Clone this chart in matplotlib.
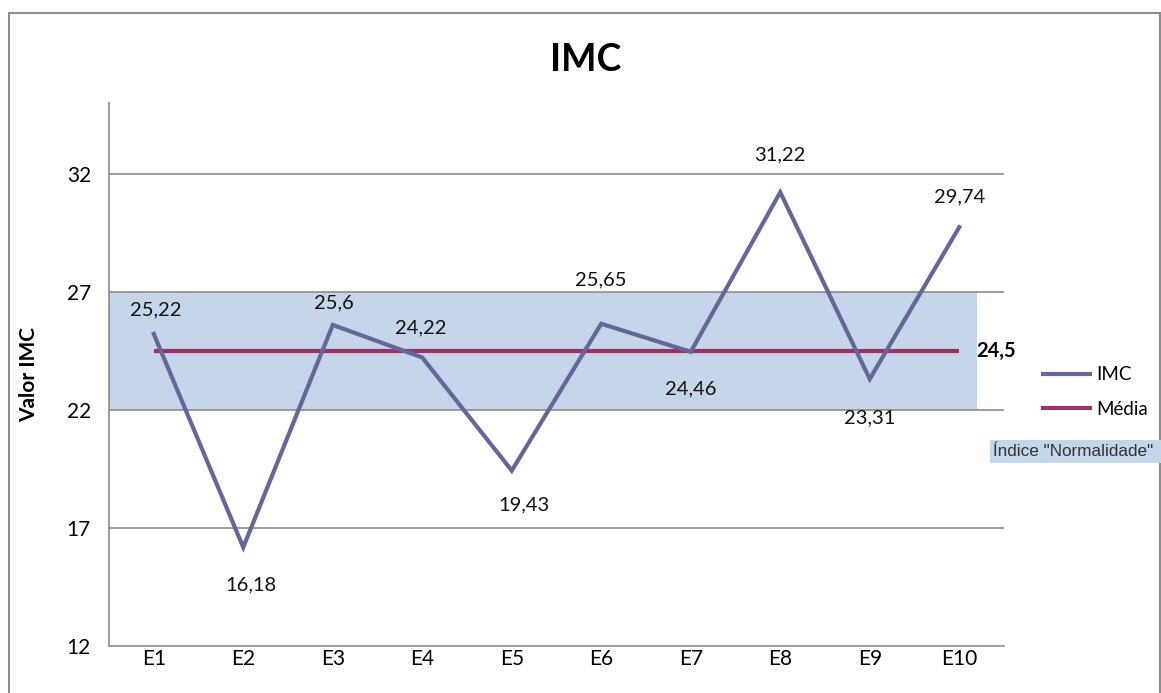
import matplotlib
matplotlib.use("Agg")
import matplotlib.pyplot as plt
from matplotlib.patches import Rectangle
from matplotlib.lines import Line2D

# Data
categories = ["E1", "E2", "E3", "E4", "E5", "E6", "E7", "E8", "E9", "E10"]
imc_values = [25.22, 16.18, 25.6, 24.22, 19.43, 25.65, 24.46, 31.22, 23.31, 29.74]
media_value = 24.5
normal_low, normal_high = 22, 27
y_ticks = [12, 17, 22, 27, 32]

# Label placement (pixel offsets from each point)
label_offsets = [(2, 24), (8, -38), (1, 22), (-1, 30), (12, -34),
                 (0, 44), (0, -37), (0, 37), (0, -39), (0, 30)]

IMC_COLOR = "#666699"
MEDIA_COLOR = "#993366"
BAND_COLOR = "#c5d5ea"
GRID_COLOR = "#8c8c8c"

plt.rcParams["font.family"] = ["Lato", "DejaVu Sans"]

W, H = 1161, 693
fig = plt.figure(figsize=(W / 100, H / 100), dpi=100)

# Outer chart frame
fig.patches.append(Rectangle((9 / W, -0.05), (1160 - 9) / W, 1.05 - 13 / H,
                             transform=fig.transFigure, fill=False,
                             edgecolor=GRID_COLOR, linewidth=1.5))

ax = fig.add_axes([109 / W, 1 - 646 / H, (1004 - 109) / W, (646 - 103) / H])
x = list(range(len(categories)))
ax.set_xlim(-0.5, len(categories) - 0.5)
ax.set_ylim(12, 35)

# Normal range band
ax.fill_between([-0.5, 9.2], normal_low, normal_high, color=BAND_COLOR,
                linewidth=0, zorder=1)

for t in y_ticks[1:]:
    ax.axhline(t, color=GRID_COLOR, linewidth=1.2, zorder=2)

ax.plot(x, [media_value] * len(x), color=MEDIA_COLOR, linewidth=3, zorder=3,
        solid_capstyle="butt")
ax.plot(x, imc_values, color=IMC_COLOR, linewidth=3, zorder=4,
        solid_joinstyle="miter")

for xi, v, (dx, dy) in zip(x, imc_values, label_offsets):
    ax.annotate(f"{v:g}".replace(".", ","), (xi, v), xytext=(dx, dy),
                textcoords="offset pixels", ha="center", va="center",
                fontsize=14.5, color="#111111", zorder=5)

ax.annotate(f"{media_value:g}".replace(".", ","), (x[-1], media_value),
            xytext=(37, 0), textcoords="offset pixels", ha="center",
            va="center", fontsize=14.5, fontweight="bold", color="black")

ax.set_xticks(x)
ax.set_xticklabels(categories)
ax.set_yticks(y_ticks)
ax.tick_params(axis="both", length=0, labelsize=15, colors="black")
ax.tick_params(axis="y", pad=13)
ax.tick_params(axis="x", pad=2)
for s in ("top", "right"):
    ax.spines[s].set_visible(False)
for s in ("left", "bottom"):
    ax.spines[s].set_color(GRID_COLOR)
    ax.spines[s].set_linewidth(1.2)

ax.set_ylabel("Valor IMC", fontsize=15, fontweight="bold", labelpad=0)
ax.yaxis.set_label_coords(-70 / 895, 0.5)

fig.text(586 / W, 1 - 60 / H, "IMC", ha="center", va="center",
         fontsize=27, fontweight="bold")

# Legend
handles = [Line2D([], [], color=IMC_COLOR, linewidth=3),
           Line2D([], [], color=MEDIA_COLOR, linewidth=3)]
fig.legend(handles, ["IMC", "Média"], loc="center left",
           bbox_to_anchor=(1034 / W, 1 - 392 / H), frameon=False,
           fontsize=13.5, handlelength=2.5, handletextpad=0.3,
           labelspacing=0.95, borderpad=0)

# Normal-range key along the right edge
fig.patches.append(Rectangle((990 / W, 1 - 463 / H), 200 / W, 23 / H,
                             transform=fig.transFigure, facecolor=BAND_COLOR,
                             edgecolor="none"))
fig.text(993 / W, 1 - 451 / H, "Índice \"Normalidade\"", ha="left",
         va="center", fontsize=12.3, color="#333333",
         family=["Liberation Sans", "DejaVu Sans"])

fig.savefig("out.png", dpi=100)
